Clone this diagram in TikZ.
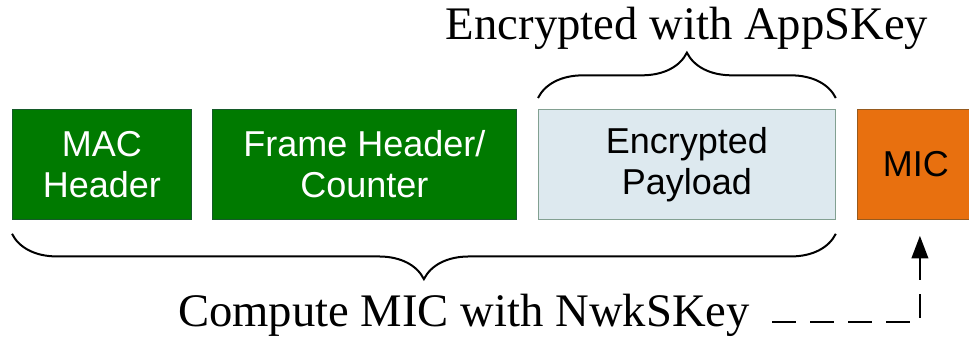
\documentclass[tikz,border=0pt]{standalone}
\usepackage{fontspec}
\setmainfont{Liberation Serif}
\setsansfont{Liberation Sans}
\usetikzlibrary{arrows.meta,calc,decorations.pathreplacing}

\definecolor{macgreen}{RGB}{0,122,0}
\definecolor{macgreenline}{RGB}{20,90,40}
\definecolor{payloadblue}{RGB}{221,233,239}
\definecolor{payloadline}{RGB}{130,160,145}
\definecolor{micorange}{RGB}{232,112,15}
\definecolor{micline}{RGB}{150,90,30}

\begin{document}
\begin{tikzpicture}[x=0.75pt,y=0.75pt,yscale=-1,xscale=1,
    field/.style={anchor=north west, inner sep=0pt, minimum height=82.5pt, line width=0.6pt, align=center, font=\sffamily\fontsize{27}{31}\selectfont},
    remark/.style={anchor=base, inner sep=0pt, font=\fontsize{35}{40}\selectfont},
    curly/.style={decorate, decoration={brace, amplitude=34pt}, line width=1.5pt},
    ]
    \useasboundingbox (0,0) rectangle (969,341);

    %Shape: Rectangle [MAC header]
    \node [field, draw=macgreenline, fill=macgreen, text=white, minimum width=134.25pt] (mac) at (12,109) {MAC\\Header};
    %Shape: Rectangle [frame header]
    \node [field, draw=macgreenline, fill=macgreen, text=white, minimum width=228pt] (fhdr) at (212,109) {Frame Header/\\Counter};
    %Shape: Rectangle [payload]
    \node [field, draw=payloadline, fill=payloadblue, text=black, minimum width=222.75pt] (pay) at (538,109) {Encrypted\\Payload};
    %Shape: Rectangle [MIC]
    \node [field, draw=micline, fill=micorange, text=black, minimum width=87.75pt] (mic) at (857,109) {MIC};

    %Brace [encrypted part]
    \draw [curly] ($(pay.north west)+(0,-11)$) -- ($(pay.north east)+(0,-11)$);
    %Brace [MIC part]
    \draw [curly] ($(pay.south east)+(0,14)$) -- ($(mac.south west)+(0,14)$);

    % Text Node
    \node [remark] (enc) at (687,40) {Encrypted with AppSKey};
    % Text Node
    \node [remark] (cmpt) at (464,327) {Compute MIC with NwkSKey};

    %Dashed arrow
    \draw [line width=1.5pt, dash pattern={on 18pt off 10.5pt}, -{Triangle[length=17pt,width=12.5pt]}] ($(cmpt.base east)+(22,-5)$) -| ($(mic.south)+(4,16)$);

\end{tikzpicture}
\end{document}
